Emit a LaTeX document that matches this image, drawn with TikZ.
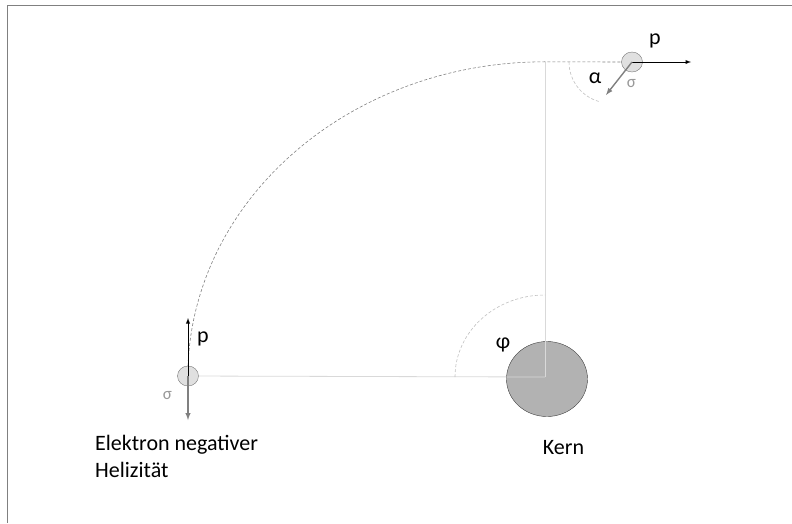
\documentclass[tikz,border=0pt]{standalone}
\usepackage{fontspec}
\setmainfont{Carlito}
\usetikzlibrary{shapes,arrows,positioning,calc}

\begin{document}
\begin{tikzpicture}[
    x=1pt, y=-1pt,
    particle/.style={ellipse, draw=black!55, fill=black!12, minimum width=21pt, minimum height=20pt, inner sep=0pt},
    nucleus/.style={ellipse, draw=black!75, fill=black!30, minimum width=81pt, minimum height=75pt, inner sep=0pt},
    lbl/.style={font=\fontsize{22}{27}\selectfont, inner sep=0pt},
    spin/.style={font=\fontsize{17}{20}\selectfont, text=black!40, inner sep=0pt},
    guide/.style={draw=black!15, line width=0.8pt},
    orbit/.style={draw=black!50, line width=0.6pt, dash pattern=on 3pt off 2pt},
    anglemark/.style={draw=black!25, line width=0.6pt, dash pattern=on 3pt off 2pt},
    momentum/.style={-latex, line width=0.9pt},
    spinarrow/.style={-latex, draw=black!50, line width=1.4pt}
]
\useasboundingbox (0,0) rectangle (792,523);

% frame
\draw[draw=black!50, line width=1.5pt] (792,5.5) -- (7.5,5.5) -- (7.5,523);

% Kern
\node (kern) at (547,379) [nucleus] {};
\coordinate (O) at (545,377);
\coordinate (top) at (545,62);

% Elektronen
\node (ein) at (188,376) [particle] {};
\node (eout) at (632,62) [particle] {};

% guide lines
\draw[guide] (ein) -- (O);
\draw[guide] (top) -- (O);

% orbit
\draw[orbit] (ein.north) arc[start angle=182, end angle=270, x radius=357, y radius=315] -- (eout.west);

% angles
\draw[anglemark] (O) ++(-90,0) arc[start angle=180, end angle=270, x radius=90, y radius=82];
\draw[anglemark] (eout.center) ++(-63,0) arc[start angle=180, end angle=104, radius=41];

% p and sigma
\coordinate (pin) at (188,318);
\coordinate (sin) at (188,420);
\coordinate (pout) at (691,62);
\coordinate (sout) at (606,95);
\draw[momentum] (ein.center) -- (pin);
\draw[spinarrow] (ein.center) -- (sin);
\draw[momentum] (eout.center) -- (pout);
\draw[spinarrow] (eout.center) -- (sout);

% labels
\node (pinlbl) at (203,339) [lbl] {p};
\node (poutlbl) at (655,41) [lbl] {p};
\node (sinlbl) at (167.5,396) [spin] {σ};
\node (soutlbl) at (631.5,84) [spin] {σ};
\node (alpha) at (595,78) [lbl] {α};
\node (phi) at (503,345) [lbl] {φ};
\node (kernlbl) at (563.5,447.5) [lbl] {Kern};
\node (elbl) at (95,435.5) [lbl, anchor=north west, align=left] {Elektron negativer\\Helizität};

\end{tikzpicture}
\end{document}
